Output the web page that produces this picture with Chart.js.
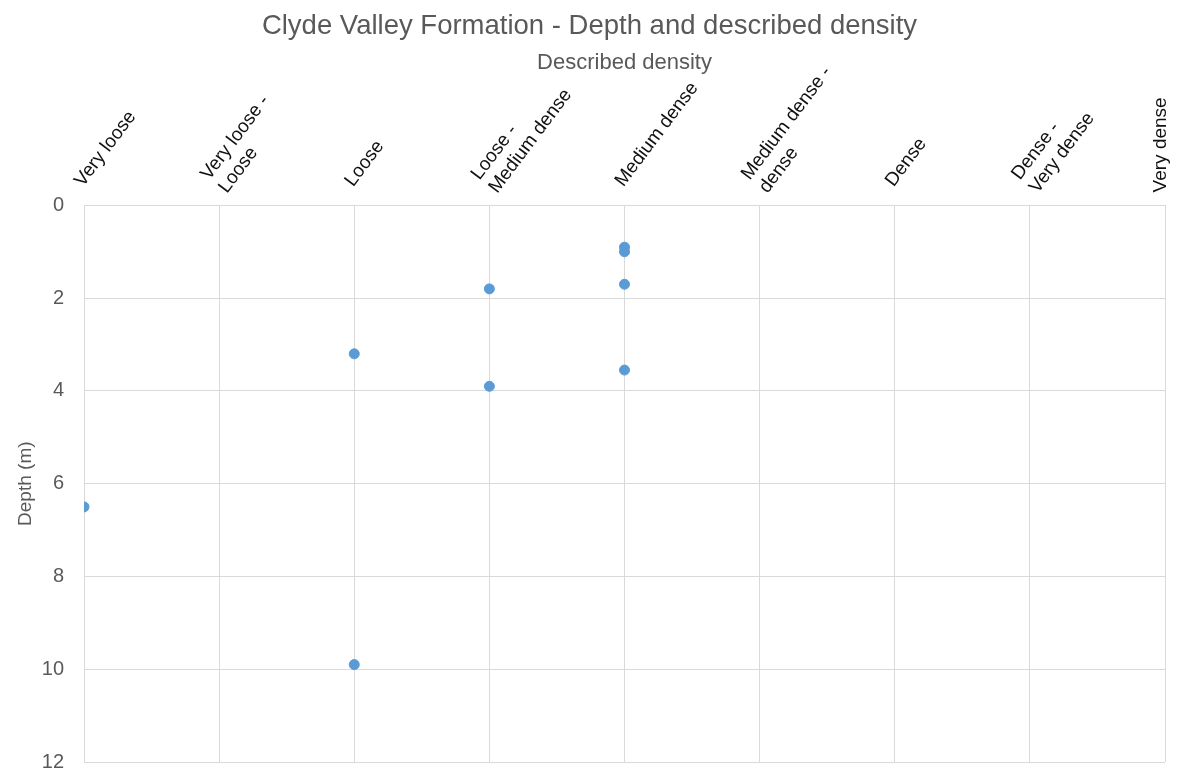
<!DOCTYPE html>
<html>
<head>
<meta charset="utf-8">
<script src="https://cdn.jsdelivr.net/npm/chart.js@4"></script>
<style>
  html, body { margin: 0; padding: 0; background: #fff; overflow: hidden; }
  canvas { display: block; }
</style>
</head>
<body>
<canvas id="myChart" width="1182" height="773"></canvas>
<script>
let densityLabels = [
  ["Very loose"],
  ["Very loose -", "Loose"],
  ["Loose"],
  ["Loose -", "Medium dense"],
  ["Medium dense"],
  ["Medium dense -", "dense"],
  ["Dense"],
  ["Dense -", "Very dense"],
  ["Very dense"]
];
let densityIndex = [4, 4, 3, 4, 2, 4, 3, 0, 2];
let depthValues = [0.9, 1.0, 1.8, 1.7, 3.2, 3.55, 3.9, 6.5, 9.9];
let depthMin = 0;
let depthMax = 12;
let depthStep = 2;

let points = densityIndex.map((d, i) => ({ x: d, y: depthValues[i] }));

Chart.defaults.font.family = "'Liberation Sans', Arial, sans-serif";

// category labels on top, drawn at the x scale positions
let topLabels = {
  id: "topLabels",
  afterDraw(chart) {
    let ctx = chart.ctx;
    let xs = chart.scales.x;
    let top = chart.chartArea.top;
    ctx.save();
    ctx.font = "19px 'Liberation Sans', Arial, sans-serif";
    ctx.fillStyle = "#111";
    ctx.textAlign = "left";
    ctx.textBaseline = "alphabetic";
    densityLabels.forEach((lines, i) => {
      let px = xs.getPixelForValue(i);
      let last = i == densityLabels.length - 1;
      ctx.save();
      if (last) {
        ctx.translate(px + 1, top - 13);
        ctx.rotate(-Math.PI / 2);
      } else {
        ctx.translate(px - 1, top - 18);
        ctx.rotate(-53 * Math.PI / 180);
      }
      lines.forEach((t, j) => {
        ctx.fillText(t, 0, (j - (lines.length - 1) / 2) * 22);
      });
      ctx.restore();
    });
    ctx.restore();
  }
};

new Chart(document.getElementById("myChart"), {
  type: "scatter",
  data: {
    datasets: [{
      data: points,
      backgroundColor: "#5b9bd5",
      borderColor: "#5b9bd5",
      pointRadius: 5,
      pointHoverRadius: 5
    }]
  },
  options: {
    responsive: false,
    animation: false,
    layout: { padding: { left: 14, right: 17, top: 0, bottom: 0 } },
    plugins: {
      legend: { display: false },
      tooltip: { enabled: false },
      title: {
        display: true,
        text: "Clyde Valley Formation - Depth and described density",
        color: "#595959",
        font: { size: 27.5, weight: "normal" },
        padding: { top: 10, bottom: 6 }
      }
    },
    scales: {
      x: {
        type: "linear",
        position: "top",
        min: 0,
        max: densityLabels.length - 1,
        ticks: { display: false, stepSize: 1 },
        grid: { color: "#d9d9d9", drawTicks: false },
        border: { color: "#d9d9d9" },
        title: {
          display: true,
          text: "Described density",
          color: "#595959",
          font: { size: 22 },
          padding: { top: 1, bottom: 129 }
        }
      },
      y: {
        type: "linear",
        reverse: true,
        min: depthMin,
        max: depthMax,
        afterFit(scale) {
          scale.width = 70;
          scale.paddingBottom = 11;
        },
        ticks: { stepSize: depthStep, color: "#595959", font: { size: 20 }, padding: 20 },
        grid: { color: "#d9d9d9", drawTicks: false },
        border: { color: "#d9d9d9" },
        title: {
          display: true,
          text: "Depth (m)",
          color: "#595959",
          font: { size: 19 },
          padding: { top: 0, bottom: 6 }
        }
      }
    }
  },
  plugins: [topLabels]
});
</script>
</body>
</html>
